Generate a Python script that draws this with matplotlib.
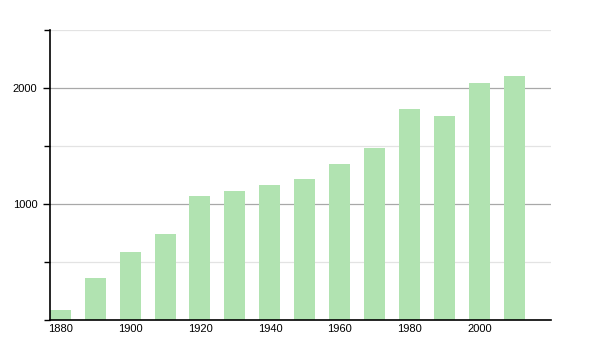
import matplotlib
matplotlib.use('Agg')
import matplotlib.pyplot as plt
from matplotlib.ticker import MultipleLocator

years = [1880, 1890, 1900, 1910, 1920, 1930, 1940, 1950, 1960, 1970, 1980, 1990, 2000, 2010]
population = [90, 367, 591, 744, 1074, 1112, 1166, 1215, 1347, 1485, 1821, 1761, 2043, 2106]
xtick_years = [1880, 1900, 1920, 1940, 1960, 1980, 2000]

plt.rcParams['font.family'] = ['Liberation Sans', 'DejaVu Sans']

fig = plt.figure(figsize=(6, 3.5), dpi=100)
ax = fig.add_axes([50/600, 1 - 320.3/350, 501/600, 290/350])

ax.bar(years, population, width=6, color='#b1e3b1', zorder=2)

ax.set_xlim(1877.1, 2020.4)
ax.set_ylim(0, 2500)

# y grid: dark for major, pale for the half steps
ax.yaxis.set_major_locator(MultipleLocator(1000))
ax.yaxis.set_minor_locator(MultipleLocator(500))
ax.grid(axis='y', which='major', color='#a8a8a8', lw=0.9, zorder=1)
ax.grid(axis='y', which='minor', color='#e3e3e3', lw=0.9, zorder=1)
ax.set_yticks([1000, 2000])
ax.set_yticklabels(['1000', '2000'])
ax.tick_params(axis='y', which='major', length=5, width=1, pad=4, labelsize=8)
ax.tick_params(axis='y', which='minor', length=4, width=1)

ax.set_xticks(xtick_years)
ax.set_xticklabels([str(y) for y in xtick_years])
ax.tick_params(axis='x', length=0, pad=3, labelsize=8)

for s in ['top', 'right']:
    ax.spines[s].set_visible(False)
ax.spines['left'].set_linewidth(1.2)
ax.spines['bottom'].set_linewidth(1.2)

fig.savefig('out.png', dpi=100)
